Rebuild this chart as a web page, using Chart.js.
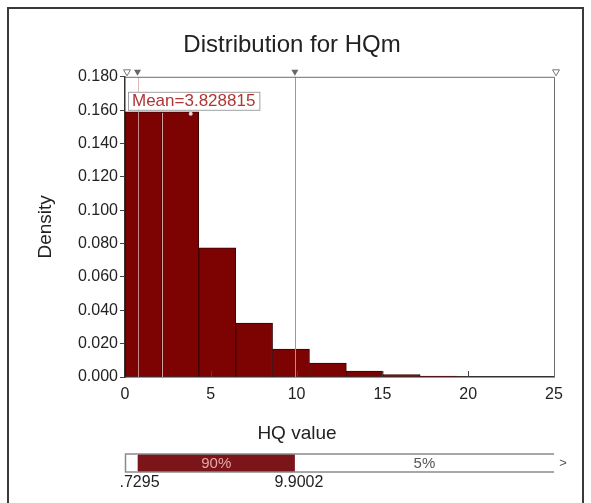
<!DOCTYPE html>
<html>
<head>
<meta charset="utf-8">
<script src="https://cdn.jsdelivr.net/npm/chart.js@4"></script>
<style>
    html, body { margin: 0; padding: 0; background: #fff; }
    #wrap { width: 591px; height: 503px; position: relative; }
</style>
</head>
<body>
<div id="wrap"><canvas id="chart" width="591" height="503"></canvas></div>
<script>
// histogram bins and densities
var binEdges = [0, 2.15, 4.3, 6.45, 8.6, 10.75, 12.9, 15.05, 17.2, 19.35];
var density = [0.159, 0.159, 0.0774, 0.0324, 0.0168, 0.0084, 0.0036, 0.0015, 0.0006];

var xMin = 0, xMax = 25, xStep = 5;
var yMin = 0, yMax = 0.18, yStep = 0.02;

var meanValue = 3.828815;
var pctMarks = [0.7295, 9.9002];
var pctLabels = ['5%', '90%', '5%'];
var pctTickText = ['.7295', '9.9002'];

var FONT = '"Liberation Sans", Arial, sans-serif';

var bars = [];
for (var i = 0; i < density.length; i++) {
    bars.push({ x: (binEdges[i] + binEdges[i + 1]) / 2, y: density[i] });
}

function tri(c, x, y, filled) {
    c.beginPath();
    c.moveTo(x - 3.5, y - 6);
    c.lineTo(x + 3.5, y - 6);
    c.lineTo(x, y);
    c.closePath();
    if (filled) {
        c.fillStyle = '#666';
        c.fill();
    } else {
        c.fillStyle = '#fff';
        c.fill();
        c.strokeStyle = '#777';
        c.lineWidth = 1;
        c.stroke();
    }
}

var extras = {
    id: 'extras',
    beforeDraw: function (chart) {
        var c = chart.ctx;
        c.save();
        c.fillStyle = '#fff';
        c.fillRect(0, 0, chart.width, chart.height);
        // outer frame
        c.strokeStyle = '#3a3a3a';
        c.lineWidth = 2;
        c.beginPath();
        c.moveTo(8, 503);
        c.lineTo(8, 8);
        c.lineTo(583, 8);
        c.lineTo(583, 503);
        c.stroke();
        c.restore();
    },
    afterDatasetsDraw: function (chart) {
        var c = chart.ctx;
        var a = chart.chartArea;
        var xs = chart.scales.x;
        var ys = chart.scales.y;
        c.save();

        // light seam between the first two bins
        var seam = Math.round(xs.getPixelForValue(binEdges[1])) + 0.5;
        c.lineWidth = 1;
        c.strokeStyle = 'rgba(220,180,180,0.9)';
        c.beginPath();
        c.moveTo(seam, ys.getPixelForValue(density[1]) + 1);
        c.lineTo(seam, a.bottom);
        c.stroke();

        // percentile lines
        var p0 = xs.getPixelForValue(pctMarks[0]);
        var p1 = xs.getPixelForValue(pctMarks[1]);
        c.strokeStyle = 'rgba(215,170,170,0.8)';
        c.beginPath();
        c.moveTo(Math.round(p0) + 0.5, a.top);
        c.lineTo(Math.round(p0) + 0.5, a.bottom);
        c.stroke();
        c.strokeStyle = '#9a9a9a';
        c.beginPath();
        c.moveTo(Math.round(p1) + 0.5, a.top);
        c.lineTo(Math.round(p1) + 0.5, a.bottom);
        c.stroke();

        // top and right edges of the plot
        c.strokeStyle = '#6e6e6e';
        c.beginPath();
        c.moveTo(a.left, a.top + 0.5);
        c.lineTo(a.right + 0.5, a.top + 0.5);
        c.lineTo(a.right + 0.5, a.bottom);
        c.stroke();

        // inward x ticks
        c.strokeStyle = '#444';
        for (var v = xMin + xStep; v < xMax; v += xStep) {
            var px = Math.round(xs.getPixelForValue(v)) + 0.5;
            c.beginPath();
            c.moveTo(px, a.bottom);
            c.lineTo(px, a.bottom - 6);
            c.stroke();
        }

        // markers on top edge
        tri(c, xs.getPixelForValue(xMin) + 2, a.top - 1, false);
        tri(c, p0, a.top - 1, true);
        tri(c, p1, a.top - 1, true);
        tri(c, xs.getPixelForValue(xMax) + 2, a.top - 1, false);

        // mean label
        var mx = xs.getPixelForValue(meanValue);
        c.beginPath();
        c.arc(mx, ys.getPixelForValue(density[1]) + 2, 2, 0, Math.PI * 2);
        c.fillStyle = '#ddd';
        c.fill();
        c.font = '17px ' + FONT;
        var txt = 'Mean=' + meanValue;
        var tw = c.measureText(txt).width;
        c.fillStyle = '#fff';
        c.fillRect(a.left + 3, a.top + 15, tw + 8, 18);
        c.strokeStyle = '#a0a0a0';
        c.strokeRect(a.left + 3.5, a.top + 15.5, tw + 8, 18);
        c.fillStyle = '#b03535';
        c.textAlign = 'left';
        c.textBaseline = 'middle';
        c.fillText(txt, a.left + 7, a.top + 25);

        // x axis title
        c.fillStyle = '#222';
        c.font = '19px ' + FONT;
        c.textAlign = 'center';
        c.fillText('HQ value', 297, 434);

        // percentile bar
        var bt = 454, bh = 18;
        var x0 = xs.getPixelForValue(xMin);
        var x1 = xs.getPixelForValue(xMax);
        c.fillStyle = '#7b1519';
        c.fillRect(p0, bt, p1 - p0, bh);
        c.strokeStyle = '#8a8a8a';
        c.lineWidth = 1.5;
        c.beginPath();
        c.moveTo(x1, bt);
        c.lineTo(x0 + 0.5, bt);
        c.lineTo(x0 + 0.5, bt + bh);
        c.lineTo(x1, bt + bh);
        c.stroke();
        c.strokeStyle = '#bbb';
        c.lineWidth = 1;
        c.beginPath();
        c.moveTo(p0, bt);
        c.lineTo(p0, bt + bh);
        c.stroke();

        var segs = [[x0, p0], [p0, p1], [p1, x1]];
        c.font = '15px ' + FONT;
        for (var s = 0; s < segs.length; s++) {
            var w = segs[s][1] - segs[s][0];
            if (w < c.measureText(pctLabels[s]).width + 4) continue;
            c.fillStyle = s === 1 ? '#e2a9a9' : '#555';
            c.fillText(pctLabels[s], (segs[s][0] + segs[s][1]) / 2, bt + bh / 2 + 1);
        }
        c.fillStyle = '#555';
        c.font = '13px ' + FONT;
        c.fillText('>', x1 + 9, bt + bh / 2);

        c.fillStyle = '#222';
        c.font = '16px ' + FONT;
        c.fillText(pctTickText[0], p0 + 2, 483);
        c.fillText(pctTickText[1], p1 + 4, 483);

        c.restore();
    }
};

var ctx = document.getElementById('chart').getContext('2d');
var chart = new Chart(ctx, {
    type: 'bar',
    data: {
        datasets: [{
            label: 'Density',
            data: bars,
            backgroundColor: '#7d0303',
            borderColor: '#3c0000',
            borderWidth: 1,
            barPercentage: 1,
            categoryPercentage: 1,
            grouped: false
        }]
    },
    options: {
        responsive: false,
        animation: false,
        layout: { padding: { left: 30, right: 37, top: 0, bottom: 0 } },
        plugins: {
            legend: { display: false },
            tooltip: { enabled: false },
            title: {
                display: true,
                text: 'Distribution for HQm',
                color: '#222',
                font: { family: FONT, size: 24, weight: 'normal' },
                padding: { top: 31, bottom: 17 }
            }
        },
        scales: {
            x: {
                type: 'linear',
                min: xMin,
                max: xMax,
                offset: false,
                afterFit: function (scale) { scale.height = 126; },
                grid: { display: true, drawOnChartArea: false, drawTicks: false, offset: false },
                border: { display: true, color: '#333', width: 1.5 },
                ticks: {
                    stepSize: xStep,
                    padding: 8,
                    color: '#222',
                    maxRotation: 0,
                    font: { family: FONT, size: 16 }
                }
            },
            y: {
                min: yMin,
                max: yMax,
                afterFit: function (scale) { scale.width = 95; },
                grid: { display: true, drawOnChartArea: false, drawTicks: true, tickLength: 5, color: '#444' },
                border: { display: true, color: '#333', width: 1.5 },
                title: {
                    display: true,
                    text: 'Density',
                    color: '#222',
                    font: { family: FONT, size: 19 },
                    padding: { top: 4, bottom: 0 }
                },
                ticks: {
                    stepSize: yStep,
                    padding: 2,
                    color: '#222',
                    font: { family: FONT, size: 16 },
                    callback: function (v) { return v.toFixed(3); }
                }
            }
        }
    },
    plugins: [extras]
});
</script>
</body>
</html>
